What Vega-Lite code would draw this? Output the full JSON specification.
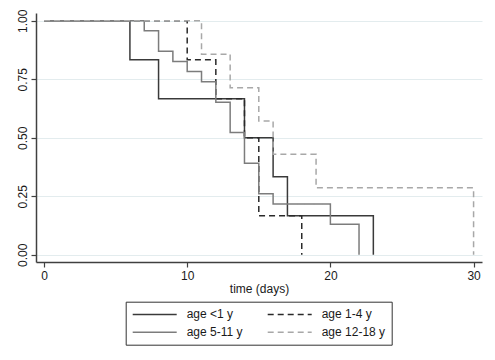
{
  "$schema": "https://vega.github.io/schema/vega-lite/v6.json",
  "width": 446,
  "height": 249,
  "autosize": {"type": "none"},
  "padding": {"left": 36, "top": 13, "right": 13, "bottom": 98},
  "background": "white",
  "config": {
    "font": "Liberation Sans",
    "view": {"stroke": null},
    "axis": {
      "labelFont": "Liberation Sans",
      "titleFont": "Liberation Sans",
      "labelFontSize": 12,
      "titleFontSize": 12,
      "labelColor": "#1a1a1a",
      "titleColor": "#1a1a1a",
      "titleFontWeight": "normal",
      "domainColor": "#404040",
      "domainWidth": 1.5,
      "tickColor": "#404040",
      "tickWidth": 1.2,
      "tickSize": 5
    }
  },
  "data": {
    "values": [
      {"group": "age <1 y", "time": 0, "surv": 1},
      {"group": "age <1 y", "time": 6, "surv": 0.833},
      {"group": "age <1 y", "time": 8, "surv": 0.667},
      {"group": "age <1 y", "time": 14, "surv": 0.5},
      {"group": "age <1 y", "time": 16, "surv": 0.333},
      {"group": "age <1 y", "time": 17, "surv": 0.167},
      {"group": "age <1 y", "time": 23, "surv": 0},
      {"group": "age 1-4 y", "time": 0, "surv": 1},
      {"group": "age 1-4 y", "time": 10, "surv": 0.833},
      {"group": "age 1-4 y", "time": 12, "surv": 0.667},
      {"group": "age 1-4 y", "time": 14, "surv": 0.5},
      {"group": "age 1-4 y", "time": 15, "surv": 0.167},
      {"group": "age 1-4 y", "time": 18, "surv": 0},
      {"group": "age 5-11 y", "time": 0, "surv": 1},
      {"group": "age 5-11 y", "time": 7, "surv": 0.957},
      {"group": "age 5-11 y", "time": 8, "surv": 0.870},
      {"group": "age 5-11 y", "time": 9, "surv": 0.826},
      {"group": "age 5-11 y", "time": 10, "surv": 0.783},
      {"group": "age 5-11 y", "time": 11, "surv": 0.739},
      {"group": "age 5-11 y", "time": 12, "surv": 0.652},
      {"group": "age 5-11 y", "time": 13, "surv": 0.522},
      {"group": "age 5-11 y", "time": 14, "surv": 0.391},
      {"group": "age 5-11 y", "time": 15, "surv": 0.261},
      {"group": "age 5-11 y", "time": 16, "surv": 0.217},
      {"group": "age 5-11 y", "time": 20, "surv": 0.130},
      {"group": "age 5-11 y", "time": 22, "surv": 0},
      {"group": "age 12-18 y", "time": 0, "surv": 1},
      {"group": "age 12-18 y", "time": 11, "surv": 0.857},
      {"group": "age 12-18 y", "time": 13, "surv": 0.714},
      {"group": "age 12-18 y", "time": 15, "surv": 0.571},
      {"group": "age 12-18 y", "time": 16, "surv": 0.429},
      {"group": "age 12-18 y", "time": 19, "surv": 0.286},
      {"group": "age 12-18 y", "time": 30, "surv": 0}
    ]
  },
  "mark": {"type": "line", "interpolate": "step-after", "strokeWidth": 1.5},
  "encoding": {
    "x": {
      "field": "time",
      "type": "quantitative",
      "scale": {"domain": [-0.559, 30.588], "nice": false, "zero": false},
      "axis": {
        "title": "time (days)",
        "values": [0, 10, 20, 30],
        "grid": false,
        "labelPadding": 3,
        "titlePadding": 2
      }
    },
    "y": {
      "field": "surv",
      "type": "quantitative",
      "scale": {"domain": [-0.031, 1.033], "nice": false, "zero": false},
      "axis": {
        "title": null,
        "values": [0, 0.25, 0.5, 0.75, 1],
        "format": ".2f",
        "labelAngle": 270,
        "labelAlign": "center",
        "labelBaseline": "bottom",
        "labelPadding": 2,
        "grid": true,
        "gridColor": "#e3ecee",
        "gridWidth": 1
      }
    },
    "color": {
      "field": "group",
      "type": "nominal",
      "scale": {
        "domain": ["age <1 y", "age 1-4 y", "age 5-11 y", "age 12-18 y"],
        "range": ["#3a3a3a", "#2a2a2a", "#7c7c7c", "#a8a8a8"]
      },
      "legend": {
        "title": null,
        "orient": "none",
        "legendX": 89.7,
        "legendY": 288.7,
        "columns": 2,
        "direction": "horizontal",
        "columnPadding": 22,
        "rowPadding": 5,
        "padding": 6,
        "strokeColor": "#333333",
        "fillColor": "white",
        "symbolType": "M-1,0H7",
        "symbolSize": 121,
        "symbolStrokeWidth": 1.5,
        "labelOffset": 42,
        "labelFont": "Liberation Sans",
        "labelFontSize": 12,
        "labelColor": "#1a1a1a"
      }
    },
    "strokeDash": {
      "field": "group",
      "type": "nominal",
      "scale": {
        "domain": ["age <1 y", "age 1-4 y", "age 5-11 y", "age 12-18 y"],
        "range": [[1, 0], [6, 4], [1, 0], [6, 4]]
      }
    },
    "order": {"field": "time", "type": "quantitative"}
  }
}
